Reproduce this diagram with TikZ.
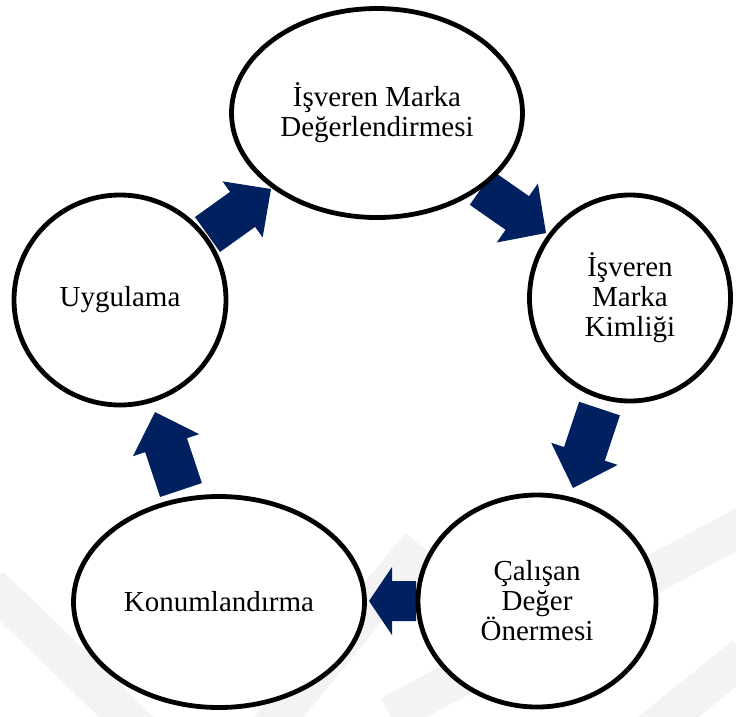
\documentclass[tikz,border=0pt]{standalone}
\usepackage{fontspec}
\setmainfont{Liberation Serif}
\usetikzlibrary{shapes.geometric,calc}
\pgfdeclarelayer{background}
\pgfdeclarelayer{canvas}
\pgfsetlayers{canvas,background,main}
\definecolor{arrownavy}{HTML}{002060}
\definecolor{wmgray}{HTML}{F3F3F3}
\tikzset{
  stage/.style={ellipse, draw=black, line width=4.8pt, fill=white, align=center,
    inner sep=0pt, font=\fontsize{29}{30}\selectfont},
  flowfill/.style={fill=arrownavy},
  wmband/.style={draw=wmgray, line width=38pt},
}
% block arrow: #1 tail, #2 tip, #3 shaft width, #4 head width, #5 head length
\newcommand\blockarrow[5]{%
  \coordinate (ba-base) at ($(#2)!#5!(#1)$);
  \fill[flowfill] ($(#1)!#3/2!90:(#2)$) -- ($(ba-base)!#3/2!90:(#2)$)
    -- ($(ba-base)!#4/2!90:(#2)$) -- (#2) -- ($(ba-base)!#4/2!-90:(#2)$)
    -- ($(ba-base)!#3/2!-90:(#2)$) -- ($(#1)!#3/2!-90:(#2)$) -- cycle;}
\begin{document}
\begin{tikzpicture}[x=1pt,y=-1pt]
\useasboundingbox (0,0) rectangle (736,716);

% white page and faint background mark
\begin{pgfonlayer}{canvas}
  \fill[white] (0,0) rectangle (736,716);
  \begin{scope}
    \clip (0,0) rectangle (736,716);
    \draw[wmband] (-10,585) -- (150,740);
    \draw[wmband] (260,740) -- (420,545);
    \draw[wmband] (390,715) -- (745,525);
    \draw[wmband] (640,740) -- (745,655);
  \end{scope}
\end{pgfonlayer}

% stages
\node[stage, minimum width=291pt, minimum height=209pt] (eval) at (377,113)
  {İşveren Marka\\Değerlendirmesi};
\node[stage, minimum width=201pt, minimum height=206pt] (ident) at (630,298)
  {İşveren\\Marka\\Kimliği};
\node[stage, minimum width=238pt, minimum height=212pt] (evp) at (537,601)
  {Çalışan\\Değer\\Önermesi};
\node[stage, minimum width=291pt, minimum height=211pt] (pos) at (219,602)
  {Konumlandırma};
\node[stage, minimum width=212pt, minimum height=210pt] (impl) at (120,300)
  {Uygulama};

% arrow ends
\coordinate (t1) at (207.5,234.5); \coordinate (p1) at (271,189);
\coordinate (t2) at (481.5,188);   \coordinate (p2) at (546,233);
\coordinate (t3) at (599.5,408.5); \coordinate (p3) at (573,488);
\coordinate (t4) at (416,601);     \coordinate (p4) at (369,601);
\coordinate (t5) at (181,490);     \coordinate (p5) at (155,412);

\begin{pgfonlayer}{background}
  \blockarrow{t1}{p1}{43pt}{69pt}{35pt}
  \blockarrow{t2}{p2}{41pt}{72pt}{35pt}
  \blockarrow{t3}{p3}{43pt}{70pt}{36pt}
  \blockarrow{t4}{p4}{40pt}{68pt}{23pt}
  \blockarrow{t5}{p5}{44pt}{70pt}{35pt}
\end{pgfonlayer}
\end{tikzpicture}
\end{document}
